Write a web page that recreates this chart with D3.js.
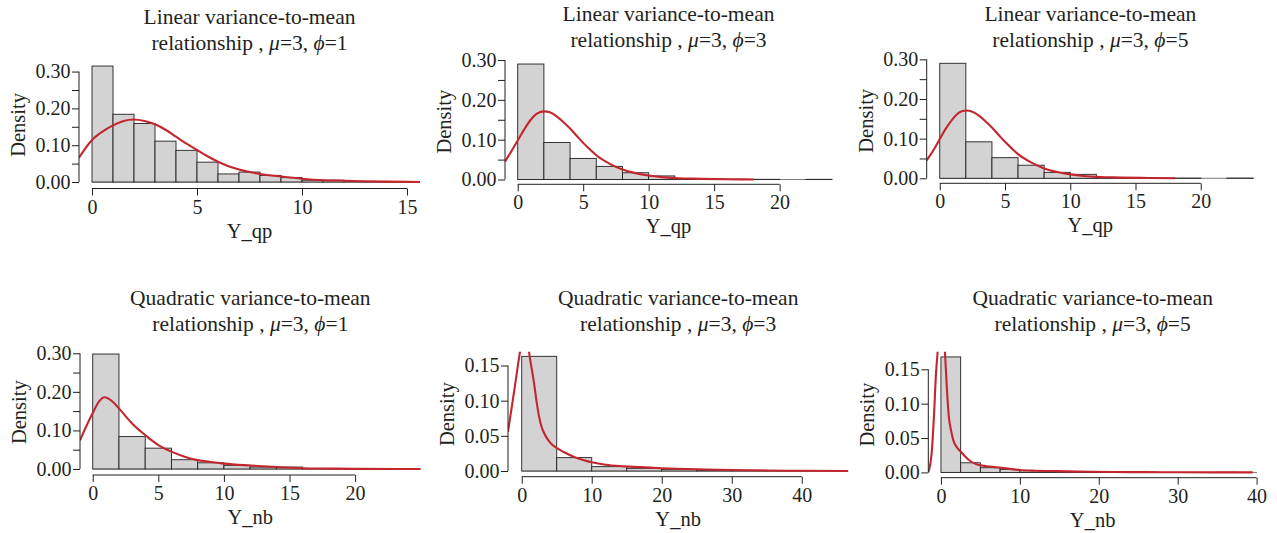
<!DOCTYPE html>
<html>
<head>
<meta charset="utf-8">
<script src="https://cdn.jsdelivr.net/npm/d3@7"></script>
<style>
  body { margin: 0; background: #fff; }
  svg text { font-family: "Liberation Serif", "Times New Roman", serif; fill: #231f20; }
</style>
</head>
<body>
<svg id="chart" width="1277" height="533"></svg>
<script>
// ---- data ----
const titleLine1 = ['Linear variance-to-mean', 'Linear variance-to-mean', 'Linear variance-to-mean',
  'Quadratic variance-to-mean', 'Quadratic variance-to-mean', 'Quadratic variance-to-mean'];
const phiValues = ['1', '3', '5', '1', '3', '5'];
const muValue = '3';
const xTitles = ['Y_qp', 'Y_qp', 'Y_qp', 'Y_nb', 'Y_nb', 'Y_nb'];
const yTitle = 'Density';

// histogram breaks and densities
const breaks1 = [0, 1, 2, 3, 4, 5, 6, 7, 8, 9, 10, 11, 12, 13, 14, 15];
const density1 = [0.315, 0.184, 0.159, 0.111, 0.086, 0.054, 0.022, 0.027, 0.018, 0.012, 0.005, 0.005, 0.001, 0.0005, 0.0005];
const breaks2 = [0, 2, 4, 6, 8, 10, 12, 14, 16, 18, 20, 22, 24];
const density2 = [0.290, 0.093, 0.053, 0.033, 0.017, 0.009, 0.002, 0.001, 0.0005, 0.0005, 0, 0.0005];
const breaks3 = [0, 2, 4, 6, 8, 10, 12, 14, 16, 18, 20, 22, 24];
const density3 = [0.290, 0.092, 0.052, 0.033, 0.015, 0.010, 0.002, 0.001, 0.0005, 0.0005, 0, 0.0005];
const breaks4 = [0, 2, 4, 6, 8, 10, 12, 14, 16, 18, 20, 22, 24];
const density4 = [0.298, 0.084, 0.054, 0.024, 0.016, 0.0095, 0.005, 0.005, 0.001, 0.0005, 0.0005, 0.0005];
const breaks5 = [0, 5, 10, 15, 20, 25, 30, 35, 40, 45];
const density5 = [0.163, 0.019, 0.0062, 0.0038, 0.0024, 0.0005, 0.001, 0.0002, 0.0002];
const breaks6 = [0, 2.5, 5, 7.5, 10, 12.5, 15, 17.5, 20, 22.5, 25, 27.5, 30, 32.5, 35, 37.5];
const density6 = [0.168, 0.014, 0.0068, 0.0044, 0.0025, 0.001, 0.0007, 0.0005, 0.0003, 0.0003, 0.0002, 0, 0, 0, 0.0002];

// fitted density curves
const curveX1 = [-0.62, 0, 0.5, 1, 1.5, 2, 2.5, 3, 3.5, 4, 4.5, 5, 5.5, 6, 6.5, 7, 7.5, 8, 9, 10, 11, 12, 13, 14, 15.62];
const curveY1 = [0.066, 0.114, 0.137, 0.154, 0.166, 0.170, 0.166, 0.157, 0.142, 0.123, 0.104, 0.087, 0.070, 0.055, 0.043, 0.034, 0.027, 0.022, 0.015, 0.009, 0.005, 0.0036, 0.002, 0.001, 0];
const curveX2 = [-0.97, -0.5, 0, 0.5, 1, 1.5, 2, 2.5, 3, 3.5, 4, 4.5, 5, 5.5, 6, 7, 8, 9, 10, 11, 12, 13, 14, 16, 18];
const curveY2 = [0.045, 0.070, 0.098, 0.126, 0.150, 0.166, 0.171, 0.168, 0.158, 0.144, 0.128, 0.110, 0.092, 0.076, 0.061, 0.040, 0.025, 0.016, 0.010, 0.006, 0.0035, 0.0025, 0.0017, 0.0008, 0];
const curveX3 = [-1.0, -0.5, 0, 0.5, 1, 1.5, 2, 2.5, 3, 3.5, 4, 4.5, 5, 5.5, 6, 7, 8, 9, 10, 11, 12, 13, 14, 16, 18];
const curveY3 = [0.045, 0.070, 0.099, 0.127, 0.150, 0.166, 0.171, 0.168, 0.158, 0.144, 0.128, 0.110, 0.092, 0.076, 0.061, 0.040, 0.025, 0.016, 0.010, 0.006, 0.0035, 0.0025, 0.0017, 0.0008, 0];
const curveX4 = [-0.97, -0.5, 0, 0.5, 0.9, 1.5, 2, 2.5, 3, 3.5, 4, 4.5, 5, 6, 7, 8, 9, 10, 12, 14, 16, 18, 20, 25];
const curveY4 = [0.074, 0.110, 0.145, 0.176, 0.186, 0.175, 0.157, 0.137, 0.118, 0.102, 0.088, 0.074, 0.062, 0.045, 0.032, 0.023, 0.018, 0.014, 0.009, 0.005, 0.002, 0.001, 0.0003, 0];
const curveX5 = [-1.96, -1.5, -1, -0.5, -0.24, 0, 0.4, 0.8, 1.04, 1.4, 1.76, 2.1, 2.47, 2.8, 3.19, 4, 5.1, 6, 7.5, 9, 10, 12, 14, 17, 20, 25, 30, 35, 40, 46.65];
const curveY5 = [0.056, 0.086, 0.119, 0.153, 0.170, 0.186, 0.205, 0.196, 0.170, 0.147, 0.125, 0.100, 0.078, 0.064, 0.054, 0.041, 0.032, 0.027, 0.020, 0.015, 0.0125, 0.009, 0.007, 0.0055, 0.004, 0.0024, 0.0015, 0.0007, 0.0003, 0];
const curveX6 = [-1.6, -1.18, -0.89, -0.63, -0.42, -0.2, 0.05, 0.3, 0.51, 0.72, 1.01, 1.3, 1.56, 2, 2.53, 3, 3.67, 4.5, 5.78, 7, 8.5, 10, 12, 14, 16, 19, 22, 26, 30, 35, 39.5];
const curveY6 = [0, 0.0275, 0.080, 0.143, 0.175, 0.200, 0.215, 0.205, 0.175, 0.129, 0.080, 0.060, 0.047, 0.037, 0.030, 0.024, 0.017, 0.012, 0.009, 0.0075, 0.0055, 0.0035, 0.0025, 0.002, 0.0015, 0.001, 0.0006, 0.0004, 0.0002, 0.0001, 0];

// axis ticks
const yTicksTop = [0, 0.05, 0.10, 0.15, 0.20, 0.25, 0.30];
const yLabelsTop = [0, 0.10, 0.20, 0.30];
const yTicksLow = [0, 0.05, 0.10, 0.15];
const xTicks1 = [0, 5, 10, 15];
const xTicks20 = [0, 5, 10, 15, 20];
const xTicks40 = [0, 10, 20, 30, 40];

// ---- layout ----
const panels = [
  { box: { left: 79, right: 420, top: 61.4, bottom: 188.5 }, xlim: [-0.62, 15.62], ylim: [-0.0176, 0.3276],
    breaks: breaks1, density: density1, cx: curveX1, cy: curveY1, xTicks: xTicks1, yTicks: yTicksTop, yLabels: yLabelsTop, titleY: 16 },
  { box: { left: 505, right: 832, top: 59, bottom: 184.3 }, xlim: [-0.97, 24.0], ylim: [-0.012, 0.3026],
    breaks: breaks2, density: density2, cx: curveX2, cy: curveY2, xTicks: xTicks20, yTicks: yTicksTop, yLabels: yLabelsTop, titleY: 13.5 },
  { box: { left: 926.7, right: 1254, top: 58.3, bottom: 183.3 }, xlim: [-1.0, 24.08], ylim: [-0.0126, 0.3026],
    breaks: breaks3, density: density3, cx: curveX3, cy: curveY3, xTicks: xTicks20, yTicks: yTicksTop, yLabels: yLabelsTop, titleY: 13 },
  { box: { left: 80, right: 420.7, top: 349.4, bottom: 475 }, xlim: [-0.97, 25.0], ylim: [-0.0156, 0.31],
    breaks: breaks4, density: density4, cx: curveX4, cy: curveY4, xTicks: xTicks20, yTicks: yTicksTop, yLabels: yLabelsTop, titleY: 297 },
  { box: { left: 508, right: 848.3, top: 351.7, bottom: 476.7 }, xlim: [-1.96, 46.65], ylim: [-0.0081, 0.1696],
    breaks: breaks5, density: density5, cx: curveX5, cy: curveY5, xTicks: xTicks40, yTicks: yTicksLow, yLabels: yTicksLow, titleY: 297 },
  { box: { left: 928.3, right: 1257, top: 351.7, bottom: 477.7 }, xlim: [-1.6, 40.05], ylim: [-0.0077, 0.1756],
    breaks: breaks6, density: density6, cx: curveX6, cy: curveY6, xTicks: xTicks40, yTicks: yTicksLow, yLabels: yTicksLow, titleY: 297 }
];

const INK = '#231f20';
const RED = '#c4262e';
const TICK_FONT = 20;
const LABEL_FONT = 20.5;
const TITLE_FONT = 21.5;

const svg = d3.select('#chart');
const defs = svg.append('defs');

panels.forEach((p, i) => {
  const b = p.box;
  const xScale = d3.scaleLinear().domain(p.xlim).range([b.left, b.right]);
  const yScale = d3.scaleLinear().domain(p.ylim).range([b.bottom, b.top]);
  const g = svg.append('g');

  defs.append('clipPath').attr('id', 'clip' + i)
    .append('rect')
    .attr('x', b.left).attr('y', b.top)
    .attr('width', b.right - b.left).attr('height', b.bottom - b.top);

  // zero line across the plot region
  g.append('line')
    .attr('x1', xScale(0)).attr('x2', b.right)
    .attr('y1', yScale(0)).attr('y2', yScale(0))
    .attr('stroke', '#555').attr('stroke-width', 0.8);

  // histogram bars
  const bins = p.density.map((d, k) => ({ x0: p.breaks[k], x1: p.breaks[k + 1], d }));
  g.append('g').selectAll('rect').data(bins).join('rect')
    .attr('x', d => xScale(d.x0))
    .attr('width', d => xScale(d.x1) - xScale(d.x0))
    .attr('y', d => yScale(d.d))
    .attr('height', d => yScale(0) - yScale(d.d))
    .attr('fill', '#d3d3d3')
    .attr('stroke', INK)
    .attr('stroke-width', 0.9);

  // density curve
  const line = d3.line()
    .x(d => xScale(d[0]))
    .y(d => yScale(d[1]))
    .curve(d3.curveMonotoneX);
  g.append('path')
    .datum(d3.zip(p.cx, p.cy))
    .attr('clip-path', `url(#clip${i})`)
    .attr('d', line)
    .attr('fill', 'none')
    .attr('stroke', RED)
    .attr('stroke-width', 2.1);

  // y axis
  const yAxisG = g.append('g')
    .attr('transform', `translate(${b.left},0)`)
    .call(d3.axisLeft(yScale)
      .tickValues(p.yTicks)
      .tickSize(7)
      .tickPadding(1.5)
      .tickFormat(v => p.yLabels.some(l => Math.abs(l - v) < 1e-9) ? d3.format('.2f')(v) : ''));
  yAxisG.select('.domain').remove();
  yAxisG.append('line')
    .attr('x1', 0).attr('x2', 0)
    .attr('y1', yScale(p.yTicks[0])).attr('y2', yScale(p.yTicks[p.yTicks.length - 1]))
    .attr('stroke', INK);
  yAxisG.selectAll('.tick line').attr('stroke', INK);
  yAxisG.selectAll('.tick text').attr('font-size', TICK_FONT).attr('fill', INK)
    .style('font-family', '"Liberation Serif", "Times New Roman", serif');

  // x axis
  const xAxisG = g.append('g')
    .attr('transform', `translate(0,${b.bottom})`)
    .call(d3.axisBottom(xScale)
      .tickValues(p.xTicks)
      .tickSize(7)
      .tickPadding(4)
      .tickFormat(d3.format('d')));
  xAxisG.select('.domain').remove();
  xAxisG.append('line')
    .attr('x1', xScale(p.xTicks[0])).attr('x2', xScale(p.xTicks[p.xTicks.length - 1]))
    .attr('y1', 0).attr('y2', 0)
    .attr('stroke', INK);
  xAxisG.selectAll('.tick line').attr('stroke', INK);
  xAxisG.selectAll('.tick text').attr('font-size', TICK_FONT).attr('fill', INK)
    .style('font-family', '"Liberation Serif", "Times New Roman", serif');

  // axis titles
  const cxMid = (b.left + b.right) / 2;
  g.append('text')
    .attr('x', cxMid).attr('y', b.bottom + 42).attr('dy', '0.35em')
    .attr('text-anchor', 'middle').attr('font-size', LABEL_FONT)
    .text(xTitles[i]);
  g.append('text')
    .attr('transform', `translate(${b.left - 61},${(b.top + b.bottom) / 2}) rotate(-90)`)
    .attr('dy', '0.35em')
    .attr('text-anchor', 'middle').attr('font-size', LABEL_FONT)
    .text(yTitle);

  // two-line title
  g.append('text')
    .attr('x', cxMid).attr('y', p.titleY).attr('dy', '0.35em')
    .attr('text-anchor', 'middle').attr('font-size', TITLE_FONT)
    .text(titleLine1[i]);
  const t2 = g.append('text')
    .attr('x', cxMid).attr('y', p.titleY + 26).attr('dy', '0.35em')
    .attr('text-anchor', 'middle').attr('font-size', TITLE_FONT);
  t2.append('tspan').text('relationship , ');
  t2.append('tspan').attr('font-style', 'italic').text('\u03bc');
  t2.append('tspan').text('=' + muValue + ', ');
  t2.append('tspan').attr('font-style', 'italic').text('\u03d5');
  t2.append('tspan').text('=' + phiValues[i]);
});
</script>
</body>
</html>
